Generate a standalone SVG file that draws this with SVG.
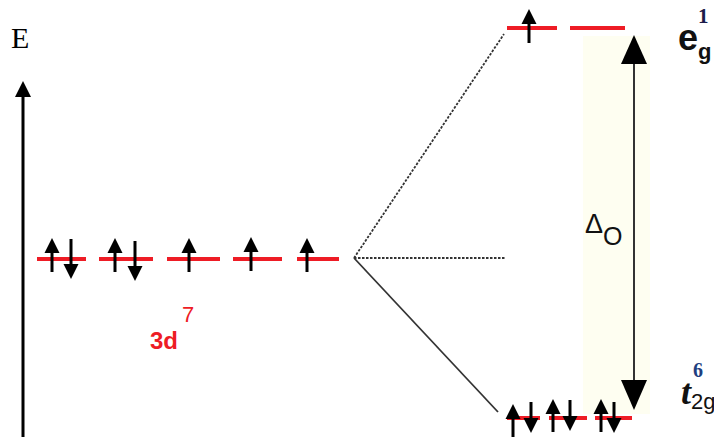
<svg xmlns="http://www.w3.org/2000/svg" xmlns:xlink="http://www.w3.org/1999/xlink" width="714" height="437" viewBox="0 0 714 437">
<style>
.lvl{stroke:#ee1c25;stroke-width:4;fill:none}
.spin{stroke:#000;stroke-width:3;fill:none}
.conn{stroke:#333;stroke-width:1.8;fill:none}
.sans{font-family:"Liberation Sans",Arial,sans-serif}
.serif{font-family:"Liberation Serif","Times New Roman",serif}
</style>
<defs>
<g id="up"><line class="spin" x1="0" y1="0" x2="0" y2="-20"/><polygon points="-7.5,-19 7.5,-19 0,-34" fill="#000"/></g>
<g id="dn"><line class="spin" x1="0" y1="0" x2="0" y2="26"/><polygon points="-7.5,25 7.5,25 0,40" fill="#000"/></g>
<g id="upS"><line class="spin" x1="0" y1="0" x2="0" y2="-20"/><polygon points="-7.5,-18 7.5,-18 0,-33" fill="#000"/></g>
<g id="dnS"><line class="spin" x1="0" y1="0" x2="0" y2="17"/><polygon points="-7.5,16 7.5,16 0,31" fill="#000"/></g>
</defs>
<rect width="714" height="437" fill="#fff"/>
<rect x="583" y="36" width="67" height="378" fill="#fefef1"/>

<g id="axis">
<line x1="23" y1="437" x2="23" y2="94" stroke="#000" stroke-width="3"/>
<polygon points="15,97 31,97 23,81" fill="#000"/>
<text class="serif" x="11" y="48" font-size="30" fill="#000">E</text>
</g>

<g id="connectors">
<line class="conn" x1="354" y1="258" x2="504" y2="34" stroke-dasharray="2.5,1.5"/>
<line class="conn" x1="354" y1="258" x2="506" y2="258" stroke-dasharray="2.5,1.5"/>
<line class="conn" x1="354" y1="258" x2="498" y2="412"/>
</g>

<g id="d3">
<line class="lvl" x1="37" y1="259" x2="86" y2="259"/>
<line class="lvl" x1="99" y1="259" x2="153" y2="259"/>
<line class="lvl" x1="167" y1="259" x2="220" y2="259"/>
<line class="lvl" x1="233" y1="259" x2="282" y2="259"/>
<line class="lvl" x1="297" y1="259" x2="339" y2="259"/>
<use xlink:href="#up" x="52" y="272"/>
<use xlink:href="#dn" x="71" y="239"/>
<use xlink:href="#up" x="115" y="272"/>
<use xlink:href="#dn" x="135" y="241"/>
<use xlink:href="#up" x="189" y="272"/>
<use xlink:href="#up" x="251" y="271"/>
<use xlink:href="#up" x="307" y="272"/>
<text class="sans" x="150" y="349" font-size="24" font-weight="bold" fill="#ee1c25">3d</text>
<text class="sans" x="182" y="322" font-size="22" fill="#ee1c25">7</text>
</g>

<g id="eg">
<line class="lvl" x1="507" y1="28" x2="557" y2="28"/>
<line class="lvl" x1="570" y1="28" x2="625" y2="28"/>
<use xlink:href="#up" x="529" y="43"/>
<text class="sans" x="678" y="50" font-size="36" font-weight="bold" fill="#111">e<tspan font-size="22" dy="9">g</tspan></text>
<text class="serif" x="698" y="23" font-size="21" font-weight="bold" fill="#1c1c4a">1</text>
</g>

<g id="t2g">
<line class="lvl" x1="507" y1="418" x2="540" y2="418"/>
<line class="lvl" x1="549" y1="418" x2="587" y2="418"/>
<line class="lvl" x1="595" y1="418" x2="632" y2="418"/>
<use xlink:href="#upS" x="513" y="437"/>
<use xlink:href="#dnS" x="531" y="402"/>
<use xlink:href="#upS" x="553" y="432"/>
<use xlink:href="#dnS" x="570" y="400"/>
<use xlink:href="#upS" x="601" y="432"/>
<use xlink:href="#dnS" x="614" y="402"/>
<text class="serif" x="681" y="404" font-size="36" font-weight="bold" font-style="italic" fill="#111">t<tspan class="sans" font-style="normal" font-weight="normal" font-size="22" dy="5">2g</tspan></text>
<text class="serif" x="693" y="377" font-size="20" font-weight="bold" fill="#1f3f80">6</text>
</g>

<g id="delta">
<line x1="634" y1="58" x2="634" y2="386" stroke="#333" stroke-width="2"/>
<polygon points="634,35 621,64 647,64" fill="#000"/>
<polygon points="634,410 621,380 647,380" fill="#000"/>
<text class="sans" x="585" y="233" font-size="27" fill="#111">Δ<tspan font-size="25" dy="12">O</tspan></text>
</g>
</svg>
